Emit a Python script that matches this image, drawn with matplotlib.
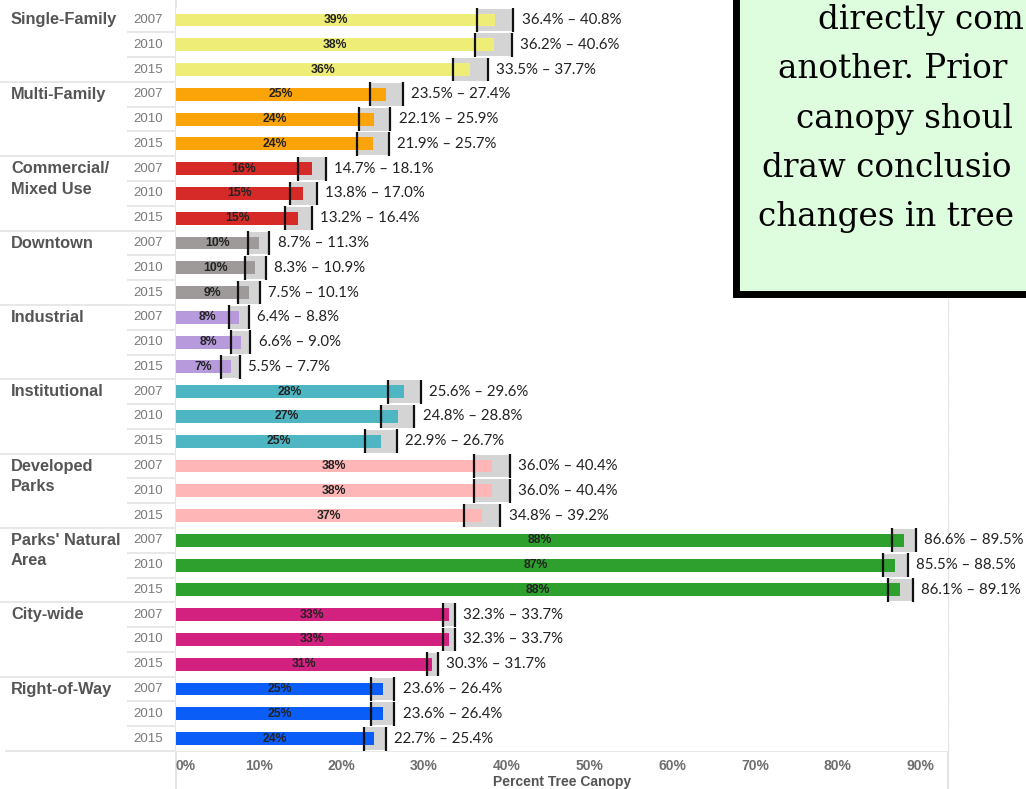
import matplotlib
matplotlib.use("Agg")
import matplotlib.pyplot as plt
from matplotlib.patches import Rectangle
from matplotlib.lines import Line2D
from matplotlib.transforms import blended_transform_factory

# data
categories = ["Single-Family", "Multi-Family", "Commercial/\nMixed Use", "Downtown",
              "Industrial", "Institutional", "Developed\nParks", "Parks' Natural\nArea",
              "City-wide", "Right-of-Way"]
years = ["2007", "2010", "2015"]
colors = ["#EDED78", "#FBA40A", "#D62A28", "#9E9A9A", "#B69ADC",
          "#4DB6C2", "#FFB6B6", "#2DA02D", "#D3217F", "#0B5DF7"]

canopy = [38.6, 38.4, 35.6,
          25.4, 24.0, 23.8,
          16.4, 15.4, 14.8,
          10.0, 9.6, 8.8,
          7.6, 7.8, 6.6,
          27.6, 26.8, 24.8,
          38.2, 38.2, 37.0,
          88.0, 87.0, 87.6,
          33.0, 33.0, 31.0,
          25.0, 25.0, 24.0]
canopy_labels = ["39%", "38%", "36%", "25%", "24%", "24%", "16%", "15%", "15%",
                 "10%", "10%", "9%", "8%", "8%", "7%", "28%", "27%", "25%",
                 "38%", "38%", "37%", "88%", "87%", "88%", "33%", "33%", "31%",
                 "25%", "25%", "24%"]
ci_low = [36.4, 36.2, 33.5, 23.5, 22.1, 21.9, 14.7, 13.8, 13.2, 8.7, 8.3, 7.5,
          6.4, 6.6, 5.5, 25.6, 24.8, 22.9, 36.0, 36.0, 34.8, 86.6, 85.5, 86.1,
          32.3, 32.3, 30.3, 23.6, 23.6, 22.7]
ci_high = [40.8, 40.6, 37.7, 27.4, 25.9, 25.7, 18.1, 17.0, 16.4, 11.3, 10.9, 10.1,
           8.8, 9.0, 7.7, 29.6, 28.8, 26.7, 40.4, 40.4, 39.2, 89.5, 88.5, 89.1,
           33.7, 33.7, 31.7, 26.4, 26.4, 25.4]
xticks = [0, 10, 20, 30, 40, 50, 60, 70, 80, 90]

plt.rcParams["font.family"] = ["Liberation Sans", "DejaVu Sans"]

W, H = 1026, 789
fig = plt.figure(figsize=(W / 100, H / 100), dpi=100)
ax = fig.add_axes([176 / W, 1 - 751 / H, (948 - 176) / W, (751 - 7.6) / H])

n = len(canopy)
rows = list(range(n))
bar_colors = [colors[i // 3] for i in rows]

# confidence band, bars, bounds
ax.barh(rows, [h - l for l, h in zip(ci_low, ci_high)], left=ci_low, height=0.92,
        color="#D4D4D4", zorder=1)
ax.barh(rows, canopy, height=0.52, color=bar_colors, zorder=2)
ax.vlines(ci_low, [r - 0.48 for r in rows], [r + 0.48 for r in rows], color="#111111", lw=1.6, zorder=3)
ax.vlines(ci_high, [r - 0.48 for r in rows], [r + 0.48 for r in rows], color="#111111", lw=1.6, zorder=3)

for r in rows:
    ax.text(canopy[r] / 2, r, canopy_labels[r], ha="center", va="center",
            fontsize=8.8, fontweight="bold", color="#222222", zorder=4)
    ax.annotate(f"{ci_low[r]:.1f}% \u2013 {ci_high[r]:.1f}%", (ci_high[r], r),
                xytext=(6, 0), textcoords="offset points", va="center", ha="left",
                fontsize=10.8, family="Lato", color="#222222", zorder=4,
                annotation_clip=False)

ax.set_xlim(0, (948 - 176) / 8.27)
ax.set_ylim(n - 0.5, -0.5)
ax.set_yticks([])
ax.set_xticks(xticks)
ax.set_xticklabels([f"{t}%" for t in xticks], fontsize=10, fontweight="bold", color="#6E6E6E")
ax.get_xticklabels()[0].set_ha("left")
ax.tick_params(axis="x", length=0, pad=6)
ax.set_xlabel("Percent Tree Canopy", fontsize=10, fontweight="bold", color="#555555", labelpad=1)
for s in ax.spines.values():
    s.set_visible(False)

# full-height vertical rules
for xp in (176, 948):
    fig.add_artist(Line2D([xp / W, xp / W], [0, 1], color="#E4E4E4", lw=1.5, zorder=0))

# row separators and labels
tr = blended_transform_factory(fig.transFigure, ax.transData)
for r in range(n - 1):
    x0 = 0 if (r + 1) % 3 == 0 else 128 / W
    fig.add_artist(Line2D([x0, 948 / W], [r + 0.5, r + 0.5], transform=tr,
                          color="#E8E8E8", lw=1.5, zorder=0))
fig.add_artist(Line2D([6 / W, 948 / W], [n - 0.5, n - 0.5], transform=tr,
                      color="#E8E8E8", lw=1.5, zorder=0))

for r in rows:
    fig.text(133 / W, r, years[r % 3], transform=tr, ha="left", va="center",
             fontsize=9.5, color="#7A7A7A")
for g, cat in enumerate(categories):
    for j, line in enumerate(cat.split("\n")):
        fig.text(11 / W, g * 3 + j * 0.83, line, transform=tr, ha="left", va="center",
                 fontsize=11.8, fontweight="bold", color="#555555")

# note box, cut off at the top right
fig.add_artist(Rectangle((736 / W, 1 - 294 / H), 400 / W, 400 / H, transform=fig.transFigure,
                         facecolor="#DEFDDE", edgecolor="black", lw=5, zorder=10))
note = [("directly com", 818), ("another. Prior", 778), ("canopy shoul", 796),
        ("draw conclusio", 762), ("changes in tree", 758)]
for i, (txt, xp) in enumerate(note):
    fig.text(xp / W, 1 - (29 + i * 49.3) / H, txt, ha="left", va="baseline",
             fontsize=23.5, family="DejaVu Serif", color="black", zorder=11)

fig.savefig("out.png", dpi=100)
